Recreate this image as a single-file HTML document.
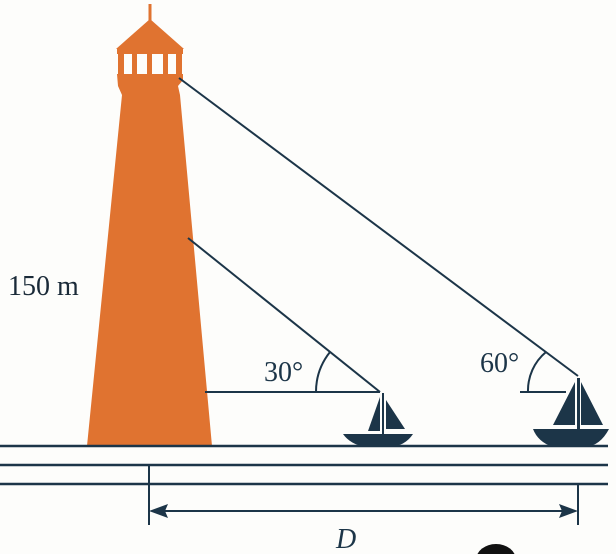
<!DOCTYPE html>
<html><head><style>body{margin:0;background:#fdfdfb}svg{display:block}</style></head><body>
<svg width="616" height="554" viewBox="0 0 616 554" xmlns="http://www.w3.org/2000/svg">
<rect width="616" height="554" fill="#fdfdfb"/>
<g fill="#e07330">
<rect x="148.5" y="4" width="3" height="18"/>
<polygon points="150,19 116,49 184,49"/>
<rect x="117" y="49" width="66" height="5"/>
<rect x="118" y="52" width="6" height="22"/><rect x="132" y="52" width="5" height="22"/><rect x="147" y="52" width="5" height="22"/><rect x="163" y="52" width="5" height="22"/><rect x="176" y="52" width="6" height="22"/>
<polygon points="117,74 183,74 183,80 178,86 180,95 212,446 87,446 122,95 118,86"/>
</g>
<g stroke="#1c3548" stroke-width="2" fill="none">
<line x1="179" y1="78" x2="578" y2="376"/>
<line x1="188" y1="238" x2="380" y2="392"/>
<line x1="205" y1="392" x2="380" y2="392"/>
<line x1="520" y1="392" x2="566" y2="392"/>
<path d="M316,392 A64,64 0 0 1 330,352"/>
<path d="M528,392 A50,50 0 0 1 546,352"/>
<line x1="0" y1="446" x2="608" y2="446" stroke-width="2.5"/>
<line x1="0" y1="465" x2="608" y2="465" stroke-width="2.5"/>
<line x1="0" y1="484" x2="608" y2="484" stroke-width="2.5"/>
<line x1="149" y1="465" x2="149" y2="525"/>
<line x1="578" y1="484" x2="578" y2="525"/>
<line x1="160" y1="511" x2="567" y2="511"/>
</g>
<g fill="#1c3548">
<polygon points="149,511 168,504 165,511 168,518"/>
<polygon points="578,511 559,504 562,511 559,518"/>
<rect x="382" y="393" width="2" height="44"/>
<polygon points="380,397 368,431 380,431"/>
<polygon points="386,400 386,429 405,429"/>
<path d="M343,434 L413,434 Q405,446 390,447 L365,447 Q350,444 343,434Z"/>
<rect x="577" y="378" width="3" height="52"/>
<polygon points="575,382 553,425 575,425"/>
<polygon points="581,382 581,425 603,425"/>
<path d="M533,429 L609,429 Q600,446 585,447 L553,447 Q538,442 533,429Z"/>
</g>
<ellipse cx="496" cy="560" rx="20" ry="16" fill="#111"/>
<g font-family="Liberation Serif, serif" fill="#1c3548" font-size="28">
<text x="8" y="295" fill="#1a2a38">150 m</text>
<text x="264" y="381">30°</text>
<text x="480" y="372">60°</text>
<text x="336" y="548" font-style="italic">D</text>
</g>
</svg>
</body></html>
